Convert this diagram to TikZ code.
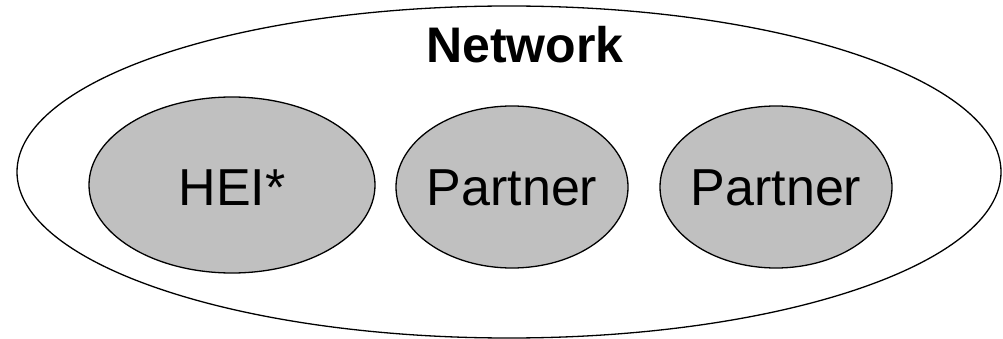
\documentclass[tikz,border=0pt]{standalone}
\usepackage{fontspec}
\setmainfont{Liberation Sans}
\usetikzlibrary{shapes.geometric}
\definecolor{blobgray}{RGB}{192,192,192}

\tikzset{every picture/.style={line width=1.3pt}}
\tikzset{
  netblob/.style={draw, ellipse, inner sep=0pt, minimum width=984pt, minimum height=332pt},
  member/.style={draw, ellipse, fill=blobgray, inner sep=0pt, minimum width=232pt, minimum height=162pt},
  memtext/.style={anchor=base, inner sep=0pt, font=\fontsize{52}{60}\selectfont}
}

\begin{document}
\begin{tikzpicture}[x=1pt,y=1pt,yscale=-1]

\useasboundingbox (0,0) rectangle (1003,339);

\node [netblob] (net) at (509,172) {};
\node [member, minimum width=286pt, minimum height=176pt] (hei) at (232,185) {};
\node [member] (partA) at (512,187) {};
\node [member] (partB) at (776,187) {};

\node [memtext, font=\fontsize{50}{60}\selectfont\bfseries] (nettext) at (525,63) {Network};
\node [memtext] (heitext) at (232,205) {HEI*};
\node [memtext] (partAtext) at (512,205) {Partner};
\node [memtext] (partBtext) at (776,205) {Partner};

\end{tikzpicture}
\end{document}
